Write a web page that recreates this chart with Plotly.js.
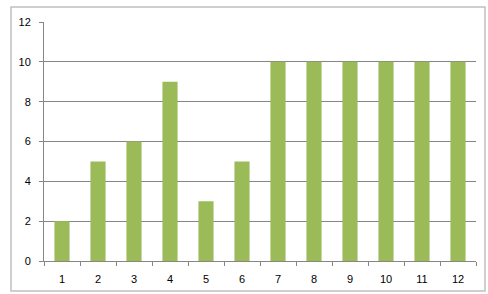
<!DOCTYPE html>
<html>
<head>
<meta charset="utf-8">
<script src="https://cdn.plot.ly/plotly-3.0.1.min.js"></script>
<style>
html,body{margin:0;padding:0;background:#fff;}
#chart{width:488px;height:294px;}
</style>
</head>
<body>
<div id="chart"></div>
<script>
var categories = ["1","2","3","4","5","6","7","8","9","10","11","12"];
var values = [2,5,6,9,3,5,10,10,10,10,10,10];
var yTicks = [0,2,4,6,8,10,12];

var L = 44, R = 476, T = 22, B = 261;
var W = R - L, H = B - T;
function px(x){ return (x - L) / W; }
function py(y){ return (B - y) / H; }

var trace = {
  type: 'bar',
  x: categories,
  y: values,
  marker: {color: '#9BBB59', line: {width: 0}},
  hoverinfo: 'x+y'
};

var layout = {
  width: 488, height: 294,
  margin: {l: L, r: 488 - R, t: T, b: 294 - B, pad: 0},
  paper_bgcolor: '#ffffff',
  plot_bgcolor: '#ffffff',
  showlegend: false,
  bargap: 0.58,
  font: {family: 'Liberation Sans, Arial, sans-serif', size: 11, color: '#000000'},
  xaxis: {
    type: 'category',
    tickson: 'boundaries',
    ticks: 'outside', ticklen: 4, tickwidth: 1, tickcolor: '#868686',
    showline: true, linecolor: '#868686', linewidth: 1,
    showgrid: false, zeroline: false,
    ticklabelstandoff: 8,
    tickfont: {size: 11, color: '#000000'},
    fixedrange: true
  },
  yaxis: {
    range: [0, 12],
    tickvals: yTicks,
    ticktext: yTicks.map(String),
    ticks: 'outside', ticklen: 4, tickwidth: 1, tickcolor: '#868686',
    showline: true, linecolor: '#868686', linewidth: 1,
    showgrid: true, gridcolor: '#868686', gridwidth: 1,
    zeroline: false,
    ticklabelstandoff: 6,
    tickfont: {size: 11, color: '#000000'},
    fixedrange: true
  },
  shapes: [{
    type: 'rect', xref: 'paper', yref: 'paper',
    x0: px(11), x1: px(485), y0: py(291), y1: py(7),
    line: {color: '#c0c0c0', width: 1.5},
    fillcolor: 'rgba(0,0,0,0)', layer: 'below'
  }]
};

Plotly.newPlot('chart', [trace], layout, {displayModeBar: false, staticPlot: true});
</script>
</body>
</html>
